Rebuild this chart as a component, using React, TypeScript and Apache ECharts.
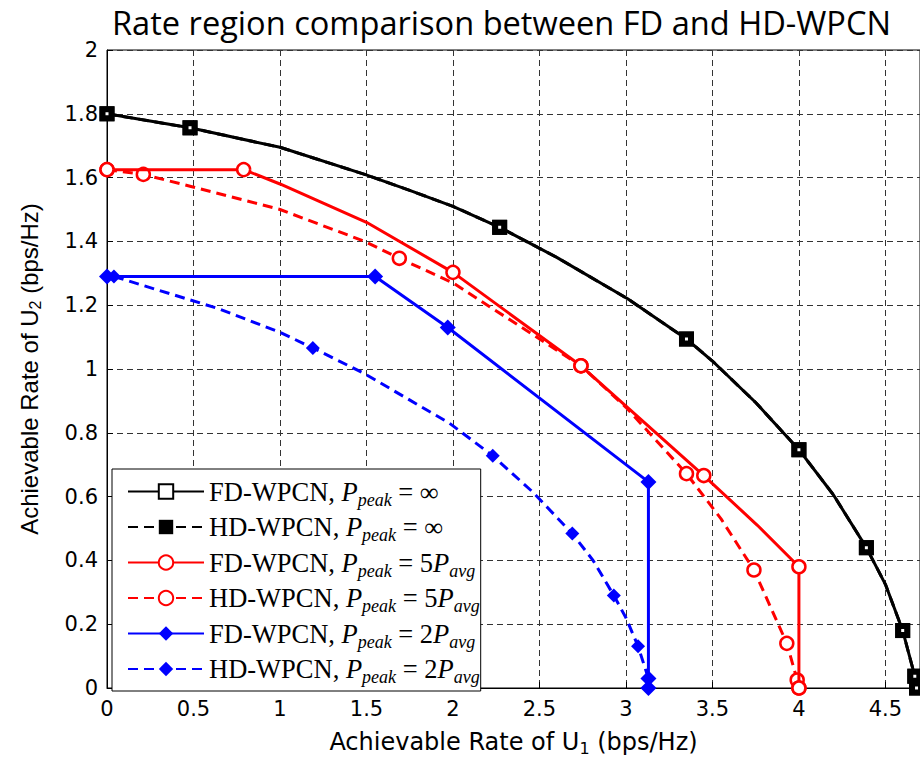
import React, { useEffect, useRef } from "react";
import * as echarts from "echarts";

// ---- data ----
const fdInf: [number, number][] = [
  [0, 1.8], [0.48, 1.756], [1.0, 1.695], [1.49, 1.61], [1.75, 1.56], [2.0, 1.51],
  [2.27, 1.444], [2.6, 1.35], [3.01, 1.22], [3.35, 1.094], [3.5, 1.025], [3.75, 0.895],
  [4.0, 0.747], [4.2, 0.605], [4.39, 0.44], [4.5, 0.325], [4.6, 0.18], [4.67, 0.037], [4.68, 0],
];
const fdInfMarks = [0, 1, 6, 9, 12, 14, 16, 17, 18];

const hdInf: [number, number][] = fdInf.map((p) => [p[0], p[1]]);
const hdInfMarks = fdInfMarks;

const fd5: [number, number][] = [
  [0, 1.625], [0.79, 1.625], [1.0, 1.58], [1.5, 1.46], [2.0, 1.303], [2.74, 1.01],
  [3.45, 0.666], [3.76, 0.51], [4.0, 0.38], [4.0, 0],
];
const fd5Marks = [0, 1, 4, 5, 6, 8, 9];

const hd5: [number, number][] = [
  [0, 1.625], [0.21, 1.61], [0.48, 1.573], [1.0, 1.5], [1.49, 1.4], [1.69, 1.347],
  [2.0, 1.27], [2.74, 1.01], [3.0, 0.88], [3.35, 0.672], [3.55, 0.53], [3.74, 0.37],
  [3.93, 0.14], [3.99, 0.025], [4.0, 0],
];
const hd5Marks = [0, 1, 5, 7, 9, 11, 12, 13, 14];

const fd2: [number, number][] = [
  [0, 1.29], [1.55, 1.29], [1.97, 1.13], [3.13, 0.646], [3.13, 0.03], [3.13, 0],
];
const fd2Marks = [0, 1, 2, 3, 4, 5];

const hd2: [number, number][] = [
  [0.04, 1.29], [0.64, 1.19], [1.0, 1.115], [1.19, 1.066], [1.49, 0.985], [1.98, 0.83],
  [2.23, 0.728], [2.46, 0.615], [2.69, 0.484], [2.81, 0.4], [2.93, 0.29], [3.0, 0.22],
  [3.07, 0.131], [3.13, 0.03], [3.13, 0],
];
const hd2Marks = [0, 3, 6, 8, 10, 12, 13, 14];

const xTicks = { min: 0, max: 4.7, interval: 0.5 };
const yTicks = { min: 0, max: 2, interval: 0.2 };

const legendNames = ["fdInf", "hdInf", "fd5", "hd5", "fd2", "hd2"];
const legendLabels: Record<string, string> = {
  fdInf: "{t|FD-WPCN, }{p|P}{s|peak}{t| = ∞}",
  hdInf: "{t|HD-WPCN, }{p|P}{s|peak}{t| = ∞}",
  fd5: "{t|FD-WPCN, }{p|P}{s|peak}{t| = 5}{p|P}{s|avg}",
  hd5: "{t|HD-WPCN, }{p|P}{s|peak}{t| = 5}{p|P}{s|avg}",
  fd2: "{t|FD-WPCN, }{p|P}{s|peak}{t| = 2}{p|P}{s|avg}",
  hd2: "{t|HD-WPCN, }{p|P}{s|peak}{t| = 2}{p|P}{s|avg}",
};

function withMarks(data: [number, number][], marks: number[]) {
  return data.map((p, i) => ({
    value: p,
    symbol: marks.includes(i) ? undefined : "none",
  }));
}

export default function App() {
  const ref = useRef<HTMLDivElement>(null);
  useEffect(() => {
    const chart = echarts.init(ref.current!, null, { renderer: "svg" });
    const sans = "Liberation Sans";
    const wide = "DejaVu Sans";
    const serif = "Liberation Serif";
    const dash = [10, 6];
    chart.setOption({
      animation: false,
      backgroundColor: "#fff",
      title: {
        text: "Rate region comparison between FD and HD-WPCN",
        left: 112,
        top: 0,
        padding: [2, 0, 0, 0],
        textStyle: { fontFamily: "Open Sans", fontSize: 32.6, fontWeight: "normal", color: "#000", lineHeight: 40 },
      },
      grid: {
        left: 107, top: 50, right: 0, bottom: 71,
        show: true, borderColor: "#000", borderWidth: 1,
      },
      legend: {
        data: legendNames,
        orient: "vertical",
        left: 112,
        top: 469,
        padding: [9, 1, 5, 15],
        itemGap: 5,
        itemWidth: 76,
        itemHeight: 18,
        borderColor: "#000",
        borderWidth: 1,
        backgroundColor: "#fff",
        formatter: (n: string) => legendLabels[n],
        textStyle: {
          fontFamily: serif,
          color: "#000",
          rich: {
            t: { fontFamily: serif, fontSize: 26.5, lineHeight: 34, color: "#000" },
            p: { fontFamily: serif, fontSize: 26.5, lineHeight: 34, fontStyle: "italic", color: "#000" },
            s: { fontFamily: serif, fontSize: 18, lineHeight: 16, fontStyle: "italic", verticalAlign: "bottom", color: "#000" },
          },
        },
      },
      xAxis: {
        type: "value",
        min: xTicks.min, max: xTicks.max, interval: xTicks.interval,
        name: "{n|Achievable Rate of U}{sub|1}{n| (bps/Hz)}",
        nameLocation: "middle",
        nameGap: 40,
        nameTextStyle: {
          rich: {
            n: { fontFamily: wide, fontSize: 24, lineHeight: 28, color: "#000" },
            sub: { fontFamily: wide, fontSize: 16, verticalAlign: "bottom", lineHeight: 12, color: "#000" },
          },
        },
        axisLine: { lineStyle: { color: "#000", width: 1 } },
        axisTick: { inside: true, length: 6, lineStyle: { color: "#000" } },
        axisLabel: { fontFamily: wide, fontSize: 21, color: "#000", margin: 10, showMaxLabel: false },
        splitLine: { show: true, lineStyle: { type: [6, 4], color: "#333", width: 1 } },
      },
      yAxis: {
        type: "value",
        min: yTicks.min, max: yTicks.max, interval: yTicks.interval,
        name: "{n|Achievable Rate of U}{sub|2}{n| (bps/Hz)}",
        nameLocation: "middle",
        nameGap: 64,
        nameTextStyle: {
          rich: {
            n: { fontFamily: sans, fontSize: 24, lineHeight: 28, color: "#000" },
            sub: { fontFamily: sans, fontSize: 16, verticalAlign: "bottom", lineHeight: 12, color: "#000" },
          },
        },
        axisLine: { show: true, lineStyle: { color: "#000", width: 1 } },
        axisTick: { show: true, inside: true, length: 6, lineStyle: { color: "#000" } },
        axisLabel: { fontFamily: wide, fontSize: 21, color: "#000", margin: 9 },
        splitLine: { show: true, lineStyle: { type: [6, 4], color: "#333", width: 1 } },
      },
      series: [
        {
          name: "hdInf", type: "line", data: withMarks(hdInf, hdInfMarks),
          symbol: "rect", symbolSize: 15, showAllSymbol: true,
          lineStyle: { color: "#000", width: 3, type: dash },
          itemStyle: { color: "#000" },
          z: 2,
        },
        {
          name: "fdInf", type: "line", data: withMarks(fdInf, fdInfMarks),
          symbol: "rect", symbolSize: 9, showAllSymbol: true,
          lineStyle: { color: "#000", width: 3, type: "solid" },
          itemStyle: { color: "#fff", borderColor: "#000", borderWidth: 6 },
          z: 3,
        },
        {
          name: "hd5", type: "line", data: withMarks(hd5, hd5Marks),
          symbol: "circle", symbolSize: 13, showAllSymbol: true,
          lineStyle: { color: "#ff0000", width: 3, type: dash },
          itemStyle: { color: "#fff", borderColor: "#ff0000", borderWidth: 2.5 },
          z: 2,
        },
        {
          name: "fd5", type: "line", data: withMarks(fd5, fd5Marks),
          symbol: "circle", symbolSize: 13, showAllSymbol: true,
          lineStyle: { color: "#ff0000", width: 3, type: "solid" },
          itemStyle: { color: "#fff", borderColor: "#ff0000", borderWidth: 2.5 },
          z: 3,
        },
        {
          name: "hd2", type: "line", data: withMarks(hd2, hd2Marks),
          symbol: "diamond", symbolSize: 14, showAllSymbol: true,
          lineStyle: { color: "#0000ff", width: 3, type: dash },
          itemStyle: { color: "#0000ff" },
          z: 2,
        },
        {
          name: "fd2", type: "line", data: withMarks(fd2, fd2Marks),
          symbol: "diamond", symbolSize: 16, showAllSymbol: true,
          lineStyle: { color: "#0000ff", width: 3, type: "solid" },
          itemStyle: { color: "#0000ff" },
          z: 3,
        },
      ],
    });
    return () => chart.dispose();
  }, []);
  return (
    <div
      ref={ref}
      style={{ position: "absolute", left: 0, top: 0, width: 920, height: 761 }}
    />
  );
}
